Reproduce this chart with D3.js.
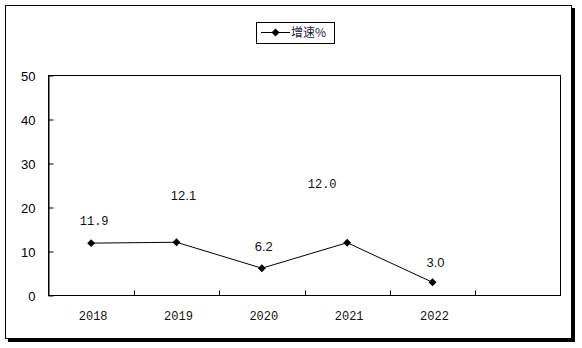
<!DOCTYPE html>
<html>
<head>
<meta charset="utf-8">
<script src="https://cdn.jsdelivr.net/npm/d3@7"></script>
<style>
  html, body { margin: 0; padding: 0; background: #fff; }
  svg { display: block; }
</style>
</head>
<body>
<svg id="chart" width="582" height="348"></svg>
<script>
// ---- data ----
const categories = ["2018", "2019", "2020", "2021", "2022", ""];
const growth = [11.9, 12.1, 6.2, 12.0, 3.0];
const labelTexts = ["11.9", "12.1", "6.2", "12.0", "3.0"];
const yTicks = [0, 10, 20, 30, 40, 50];
const seriesName = "增速%";

// label placement offsets (relative to the point) and font style
const labelDx = [3, 7, 2, -25, 3];
const labelDy = [-22, -47, -22, -59, -20];
const labelMono = [true, false, false, true, false];

const svg = d3.select("#chart");

// outer frame with shadow
svg.append("rect").attr("x", 8).attr("y", 8).attr("width", 567).attr("height", 334).attr("fill", "#000");
svg.append("rect").attr("x", 5.5).attr("y", 5.5).attr("width", 566).attr("height", 333)
  .attr("fill", "#fff").attr("stroke", "#000").attr("stroke-width", 1);

const plot = { left: 48.5, right: 560.5, top: 75.5, bottom: 295.5 };

const x = d3.scaleBand().domain(categories.map((c, i) => i)).range([plot.left, plot.right]).padding(0);
const y = d3.scaleLinear().domain([0, 50]).range([plot.bottom, plot.top]);

// plot area border
svg.append("rect").attr("x", plot.left).attr("y", plot.top)
  .attr("width", plot.right - plot.left).attr("height", plot.bottom - plot.top)
  .attr("fill", "#fff").attr("stroke", "#000").attr("stroke-width", 1);

// y axis
const yAxis = d3.axisLeft(y).tickValues(yTicks).tickSizeInner(-5).tickSizeOuter(0).tickPadding(13);
const gy = svg.append("g").attr("transform", `translate(${plot.left},0)`).call(yAxis);
gy.select(".domain").attr("stroke", "#000");
gy.selectAll(".tick line").attr("stroke", "#000");
gy.selectAll(".tick text").attr("font-family", "Arial, 'Liberation Sans', sans-serif")
  .attr("font-size", 13).attr("fill", "#000").attr("dy", "0.35em");

// x axis: ticks at band boundaries
const boundaries = d3.range(1, categories.length).map(i => x(i));
const gx = svg.append("g");
gx.append("line").attr("x1", plot.left).attr("x2", plot.right)
  .attr("y1", plot.bottom).attr("y2", plot.bottom).attr("stroke", "#000");
gx.selectAll("line.tk").data(boundaries).join("line").attr("class", "tk")
  .attr("x1", d => Math.round(d) + 0.5).attr("x2", d => Math.round(d) + 0.5)
  .attr("y1", plot.bottom).attr("y2", plot.bottom - 5).attr("stroke", "#000");
gx.selectAll("text").data(categories).join("text")
  .attr("x", (d, i) => x(i) + x.bandwidth() / 2 + 2)
  .attr("y", 320)
  .attr("text-anchor", "middle")
  .attr("font-family", "'Liberation Mono', 'DejaVu Sans Mono', monospace")
  .attr("font-size", 12)
  .attr("fill", "#111")
  .text(d => d);

const cx = i => x(i) + x.bandwidth() / 2;

// line
const line = d3.line().x((d, i) => cx(i)).y(d => y(d));
svg.append("path").datum(growth).attr("d", line)
  .attr("fill", "none").attr("stroke", "#000").attr("stroke-width", 1);

// markers
const diamond = d3.symbol().type(d3.symbolDiamond2).size(40);
svg.selectAll("path.mk").data(growth).join("path").attr("class", "mk")
  .attr("d", diamond)
  .attr("transform", (d, i) => `translate(${cx(i)},${y(d)})`)
  .attr("fill", "#000");

// data labels
svg.selectAll("text.lbl").data(growth).join("text").attr("class", "lbl")
  .attr("x", (d, i) => cx(i) + labelDx[i])
  .attr("y", (d, i) => y(d) + labelDy[i])
  .attr("dy", "0.35em")
  .attr("text-anchor", "middle")
  .attr("font-family", (d, i) => labelMono[i] ? "'Liberation Mono', monospace" : "Arial, 'Liberation Sans', sans-serif")
  .attr("font-size", (d, i) => labelMono[i] ? 12 : 13)
  .attr("fill", "#111")
  .text((d, i) => labelTexts[i]);

// legend
const lg = svg.append("g");
lg.append("rect").attr("x", 256.5).attr("y", 22.5).attr("width", 78).attr("height", 21)
  .attr("fill", "#fff").attr("stroke", "#000").attr("stroke-width", 1);
lg.append("line").attr("x1", 261).attr("x2", 290).attr("y1", 32.5).attr("y2", 32.5)
  .attr("stroke", "#000").attr("stroke-width", 1);
lg.append("path").attr("d", diamond).attr("transform", "translate(275.5,32.5)").attr("fill", "#000");
lg.append("text").attr("x", 291).attr("y", 32.5).attr("dy", "0.35em")
  .attr("font-family", "'Noto Sans CJK SC', sans-serif").attr("font-size", 12)
  .attr("fill", "#1a1a40").text(seriesName);
</script>
</body>
</html>
